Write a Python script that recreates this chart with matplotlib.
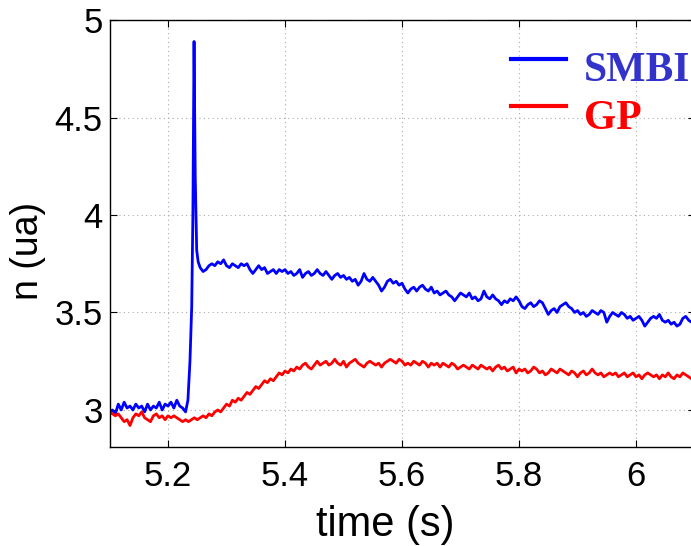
import numpy as np
import matplotlib
matplotlib.use("Agg")
import matplotlib.pyplot as plt
from matplotlib.legend_handler import HandlerLine2D

# SMBI trace: flat part, the spike, then the slow decay
smbi_pre = [2.99, 3.00, 2.98, 3.03, 3.00, 3.04, 3.01, 3.02, 3.00, 3.03,
            3.01, 3.02, 2.99, 3.03, 3.00, 3.02, 3.01, 3.04, 3.00, 3.03,
            3.02, 3.04, 3.01, 3.05, 3.02, 3.01, 2.99]
spike_t = [5.234, 5.2375, 5.2405, 5.2425, 5.2445, 5.2465, 5.249, 5.2515]
spike_n = [3.05, 3.25, 3.53, 4.00, 4.89, 4.20, 3.82, 3.76]
smbi_post = [3.73, 3.71, 3.72, 3.74, 3.75, 3.74, 3.76, 3.75, 3.77, 3.74,
             3.73, 3.75, 3.74, 3.73, 3.75, 3.74, 3.75, 3.72, 3.70, 3.72,
             3.74, 3.72, 3.73, 3.70, 3.71, 3.72, 3.70, 3.72, 3.71, 3.72,
             3.70, 3.71, 3.69, 3.70, 3.72, 3.68, 3.70, 3.71, 3.69, 3.70,
             3.72, 3.70, 3.69, 3.71, 3.69, 3.67, 3.69, 3.70, 3.68, 3.69,
             3.67, 3.68, 3.66, 3.67, 3.64, 3.66, 3.70, 3.67, 3.66, 3.68,
             3.66, 3.64, 3.61, 3.63, 3.66, 3.67, 3.65, 3.66, 3.64, 3.65,
             3.62, 3.60, 3.62, 3.63, 3.61, 3.63, 3.64, 3.62, 3.61, 3.63,
             3.60, 3.61, 3.59, 3.60, 3.61, 3.59, 3.58, 3.56, 3.58, 3.60,
             3.59, 3.58, 3.60, 3.57, 3.58, 3.56, 3.57, 3.61, 3.58, 3.57,
             3.59, 3.57, 3.56, 3.54, 3.56, 3.55, 3.57, 3.56, 3.58, 3.56,
             3.53, 3.52, 3.54, 3.55, 3.53, 3.54, 3.56, 3.55, 3.52, 3.49,
             3.51, 3.52, 3.50, 3.53, 3.54, 3.55, 3.53, 3.52, 3.50, 3.51,
             3.49, 3.50, 3.48, 3.49, 3.51, 3.50, 3.49, 3.51, 3.50, 3.45,
             3.48, 3.50, 3.49, 3.48, 3.50, 3.49, 3.47, 3.48, 3.46, 3.47,
             3.48, 3.46, 3.43, 3.45, 3.47, 3.48, 3.47, 3.49, 3.46, 3.45,
             3.46, 3.44, 3.45, 3.43, 3.44, 3.47, 3.48, 3.46, 3.45, 3.44]

# GP trace, sampled every 5 ms from 5.100 s
gp = [2.99, 2.98, 2.97, 2.98, 2.96, 2.94, 2.95, 2.92, 2.96, 2.98,
      2.97, 2.99, 2.96, 2.95, 2.94, 2.97, 2.98, 2.96, 2.97, 2.95,
      2.97, 2.96, 2.97, 2.96, 2.95, 2.94, 2.95, 2.94, 2.95, 2.96,
      2.95, 2.96, 2.97, 2.96, 2.98, 2.97, 2.99, 3.00, 2.99, 3.01,
      3.03, 3.02, 3.05, 3.04, 3.06, 3.05, 3.07, 3.09, 3.08, 3.10,
      3.12, 3.11, 3.13, 3.15, 3.14, 3.16, 3.15, 3.17, 3.19, 3.18,
      3.20, 3.19, 3.21, 3.20, 3.22, 3.21, 3.23, 3.24, 3.22, 3.21,
      3.23, 3.25, 3.23, 3.24, 3.25, 3.23, 3.24, 3.26, 3.24, 3.23,
      3.25, 3.22, 3.24, 3.25, 3.26, 3.24, 3.23, 3.22, 3.24, 3.25,
      3.24, 3.23, 3.24, 3.22, 3.24, 3.25, 3.26, 3.25, 3.24, 3.26,
      3.25, 3.23, 3.24, 3.23, 3.25, 3.24, 3.23, 3.25, 3.24, 3.22,
      3.24, 3.23, 3.24, 3.22, 3.24, 3.23, 3.22, 3.24, 3.23, 3.21,
      3.22, 3.23, 3.22, 3.21, 3.23, 3.22, 3.21, 3.23, 3.22, 3.21,
      3.22, 3.20, 3.22, 3.23, 3.21, 3.22, 3.20, 3.21, 3.22, 3.19,
      3.21, 3.20, 3.21, 3.19, 3.20, 3.22, 3.21, 3.19, 3.20, 3.18,
      3.19, 3.21, 3.20, 3.19, 3.21, 3.20, 3.19, 3.18, 3.20, 3.19,
      3.17, 3.19, 3.20, 3.18, 3.19, 3.21, 3.19, 3.18, 3.19, 3.17,
      3.18, 3.19, 3.18, 3.19, 3.17, 3.18, 3.19, 3.17, 3.18, 3.19,
      3.17, 3.18, 3.16, 3.18, 3.19, 3.18, 3.17, 3.18, 3.16, 3.18,
      3.17, 3.19, 3.17, 3.16, 3.18, 3.17, 3.19, 3.18, 3.17, 3.16,
      3.17]

dt = 0.005
t_pre = 5.100 + dt * np.arange(len(smbi_pre))
t_post = 5.255 + dt * np.arange(len(smbi_post))
t_smbi = np.concatenate([t_pre, spike_t, t_post])
n_smbi = np.concatenate([smbi_pre, spike_n, smbi_post])
t_gp = 5.100 + dt * np.arange(len(gp))

xticks = [5.2, 5.4, 5.6, 5.8, 6.0]
xticklabels = ["5.2", "5.4", "5.6", "5.8", "6"]
yticks = [3, 3.5, 4, 4.5, 5]
yticklabels = ["3", "3.5", "4", "4.5", "5"]


class RaisedLine(HandlerLine2D):
    # legend key lines sit a bit above the text centre, as in the original
    def create_artists(self, *args, **kwargs):
        arts = super().create_artists(*args, **kwargs)
        for a in arts:
            a.set_ydata(np.asarray(a.get_ydata()) + 5.5)
        return arts


plt.rcParams["font.family"] = ["Liberation Sans", "DejaVu Sans"]

fig = plt.figure(figsize=(6.91, 5.46), dpi=100)
ax = fig.add_axes([0.1585, 0.1813, 0.8466, 0.782])

ax.plot(t_smbi, n_smbi, color="#0000ff", lw=2.0, label="SMBI")
ax.plot(t_gp, gp, color="#ff0000", lw=2.0, label="GP")

ax.set_xlim(5.1, 6.1)
ax.set_ylim(2.81, 5.0)
ax.set_xticks(xticks)
ax.set_xticklabels(xticklabels)
ax.set_yticks(yticks)
ax.set_yticklabels(yticklabels)
ax.tick_params(direction="in", length=5, labelsize=25, width=0.8,
               top=True, right=True)
ax.tick_params(axis="x", pad=9)
ax.tick_params(axis="y", pad=5)
ax.grid(True, linestyle=(0, (1, 3)), color="#aaaaaa", lw=0.8)
for s in ax.spines.values():
    s.set_linewidth(1.0)

ax.set_xlabel("time (s)", fontsize=30)
ax.set_ylabel("n (ua)", fontsize=27)
ax.xaxis.set_label_coords(0.472, -0.135)
ax.yaxis.set_label_coords(-0.108, 0.46)

leg = ax.legend(loc="upper left", bbox_to_anchor=(0.657, 0.965), frameon=False,
                prop={"family": "Liberation Serif", "weight": "bold", "size": 30},
                handlelength=1.32, handletextpad=0.45, labelspacing=0.23,
                borderaxespad=0.0,
                handler_map={plt.Line2D: RaisedLine()})
for txt, c in zip(leg.get_texts(), ["#3333cc", "#ff0000"]):
    txt.set_color(c)
for h in leg.legend_handles:
    h.set_linewidth(3)

fig.savefig("out.png", dpi=100)
